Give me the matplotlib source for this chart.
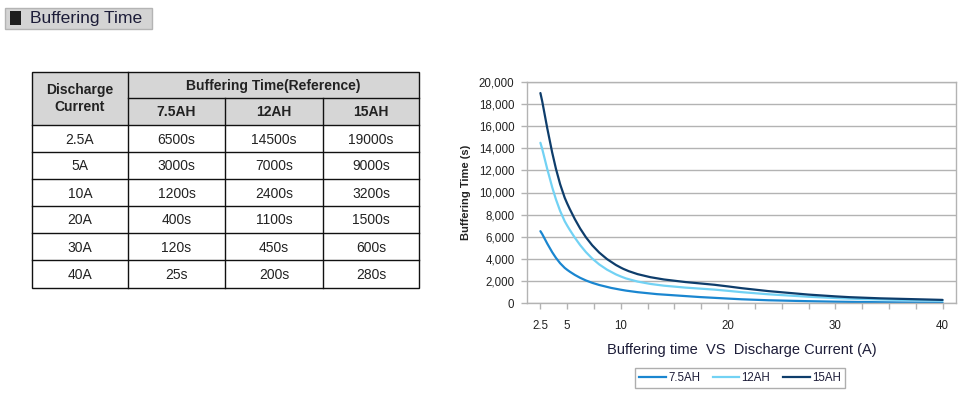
import matplotlib
matplotlib.use("Agg")
import matplotlib.pyplot as plt
import numpy as np
from matplotlib.path import Path
from matplotlib.patches import PathPatch, Rectangle
from matplotlib.lines import Line2D
from matplotlib.ticker import FuncFormatter, MultipleLocator, FixedLocator

plt.rcParams['font.family'] = ['Liberation Sans', 'DejaVu Sans']

# ---------------- data ----------------
currents = [2.5, 5, 10, 20, 30, 40]
current_labels = ["2.5A", "5A", "10A", "20A", "30A", "40A"]
capacities = ["7.5AH", "12AH", "15AH"]
time_75 = [6500, 3000, 1200, 400, 120, 25]
time_12 = [14500, 7000, 2400, 1100, 450, 200]
time_15 = [19000, 9000, 3200, 1500, 600, 280]
series = [time_75, time_12, time_15]
colors = ["#1a86d0", "#72d2f4", "#0e3d6b"]
x_ticks = [2.5, 5, 10, 20, 30, 40]

W, H = 963, 393
fig = plt.figure(figsize=(W / 100, H / 100), dpi=100)

# ---------------- overlay (pixel coords) for title + table ----------------
ov = fig.add_axes([0, 0, 1, 1])
ov.set_xlim(0, W)
ov.set_ylim(H, 0)
ov.axis("off")

navy_txt = "#1c1c38"
ov.add_patch(Rectangle((5, 8), 147, 21, facecolor="#d4d4d4", edgecolor="#b4b4b4", lw=1))
ov.add_patch(Rectangle((10, 11), 11, 14, facecolor="#1e1e1e", edgecolor="none"))
ov.text(30, 18.5, "Buffering Time", fontsize=12.6, color=navy_txt, va="center", ha="left")

# table geometry
col_x = [32, 128, 225, 323, 419]
row_y = [72, 98, 125, 152, 179, 206, 233, 260, 288]
hdr = "#d6d6d6"
ov.add_patch(Rectangle((col_x[0], row_y[0]), col_x[-1] - col_x[0], row_y[2] - row_y[0],
                       facecolor=hdr, edgecolor="none"))
lc = "#111111"
lw = 1.0
ov.add_patch(Rectangle((col_x[0], row_y[0]), col_x[-1] - col_x[0], row_y[-1] - row_y[0],
                       facecolor="none", edgecolor=lc, lw=lw))
ov.plot([col_x[1], col_x[1]], [row_y[0], row_y[-1]], color=lc, lw=lw)
for cx in col_x[2:-1]:
    ov.plot([cx, cx], [row_y[1], row_y[-1]], color=lc, lw=lw)
ov.plot([col_x[1], col_x[-1]], [row_y[1], row_y[1]], color=lc, lw=lw)
for ry in row_y[2:-1]:
    ov.plot([col_x[0], col_x[-1]], [ry, ry], color=lc, lw=lw)

tfam = ['Liberation Sans', 'DejaVu Sans']
tcol = "#222222"
fs = 10
ov.text((col_x[0] + col_x[1]) / 2, (row_y[0] + row_y[2]) / 2, "Discharge\nCurrent",
        ha="center", va="center", fontsize=fs, fontweight="bold", family=tfam, color=tcol,
        linespacing=1.25)
ov.text((col_x[1] + col_x[-1]) / 2, (row_y[0] + row_y[1]) / 2 + 1, "Buffering Time(Reference)",
        ha="center", va="center", fontsize=fs, fontweight="bold", family=tfam, color=tcol)
for j, cap in enumerate(capacities):
    ov.text((col_x[j + 1] + col_x[j + 2]) / 2, (row_y[1] + row_y[2]) / 2 + 1, cap,
            ha="center", va="center", fontsize=fs, fontweight="bold", family=tfam, color=tcol)
for i, lab in enumerate(current_labels):
    yc = (row_y[i + 2] + row_y[i + 3]) / 2 + 1
    ov.text((col_x[0] + col_x[1]) / 2, yc, lab, ha="center", va="center",
            fontsize=fs, family=tfam, color=tcol)
    for j, s in enumerate(series):
        ov.text((col_x[j + 1] + col_x[j + 2]) / 2, yc, f"{s[i]}s", ha="center", va="center",
                fontsize=fs, family=tfam, color=tcol)

# ---------------- chart ----------------
ax = fig.add_axes([527 / W, 1 - 303 / H, (956 - 527) / W, (303 - 82) / H])
ax.set_xlim(1.25, 41.25)
ax.set_ylim(0, 20000)
grid_c = "#b3b3b3"
for sp in ax.spines.values():
    sp.set_color(grid_c)
    sp.set_linewidth(1.0)
ax.yaxis.set_major_locator(MultipleLocator(2000))
ax.yaxis.set_major_formatter(FuncFormatter(lambda v, p: f"{int(v):,}"))
ax.grid(axis="y", color=grid_c, lw=1.0)
ax.set_axisbelow(True)
ax.xaxis.set_major_locator(FixedLocator(x_ticks))
ax.xaxis.set_major_formatter(FuncFormatter(lambda v, p: f"{v:g}"))
ax.xaxis.set_minor_locator(FixedLocator(np.arange(2.5, 40.1, 2.5)))
ax.tick_params(axis="both", which="both", color=grid_c, length=4, width=1,
               labelsize=8.3, labelcolor="#222222")
ax.tick_params(axis="x", which="major", pad=8)
ax.tick_params(axis="y", pad=5)

ax.set_ylabel("Buffering Time (s)", fontsize=8, fontweight="bold", color="#222222", labelpad=6)
ax.set_xlabel("Buffering time  VS  Discharge Current (A)", fontsize=10.5, color=navy_txt,
              labelpad=8)


def smooth_path(xs, ys):
    pts = np.column_stack([xs, ys]).astype(float)
    n = len(pts)
    verts = [pts[0]]
    codes = [Path.MOVETO]
    for i in range(n - 1):
        p0 = pts[i - 1] if i > 0 else pts[i]
        p1 = pts[i]
        p2 = pts[i + 1]
        p3 = pts[i + 2] if i + 2 < n else pts[i + 1]
        c1 = p1 + (p2 - p0) / 6.0
        c2 = p2 - (p3 - p1) / 6.0
        verts += [c1, c2, p2]
        codes += [Path.CURVE4] * 3
    return Path(verts, codes)


handles = []
for s, c, lab in zip(series, colors, capacities):
    ax.add_patch(PathPatch(smooth_path(currents, s), facecolor="none", edgecolor=c, lw=1.6,
                           capstyle="round", joinstyle="round"))
    handles.append(Line2D([], [], color=c, lw=1.6, label=lab))

leg = fig.legend(handles=handles, loc="center", bbox_to_anchor=(740 / W, 1 - 378 / H),
                 ncol=3, fontsize=8.3, frameon=True, fancybox=False, handlelength=2.3,
                 handletextpad=0.2, columnspacing=1.1, borderpad=0.35)
leg.get_frame().set_edgecolor("#9a9a9a")
leg.get_frame().set_linewidth(1.0)
for t in leg.get_texts():
    t.set_color(navy_txt)

fig.savefig("out.png", dpi=100)
